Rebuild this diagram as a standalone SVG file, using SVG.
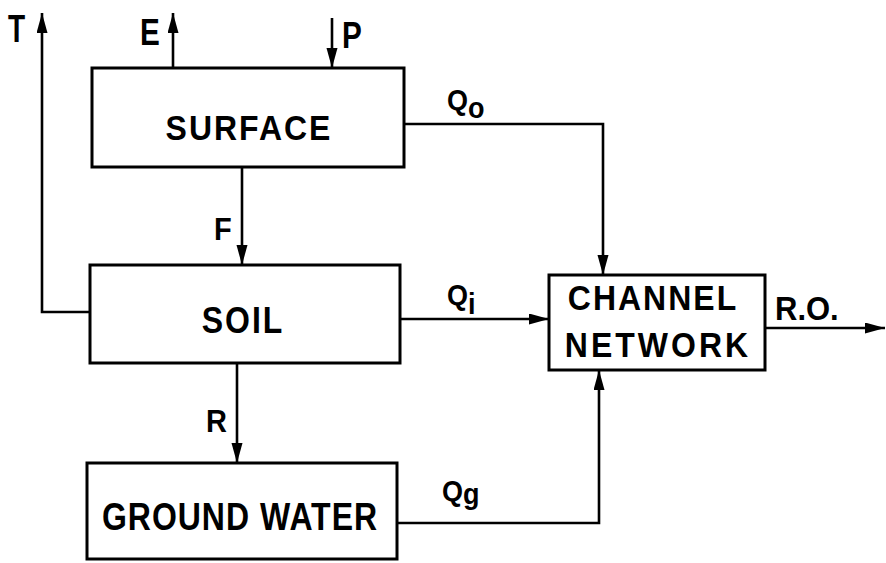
<svg xmlns="http://www.w3.org/2000/svg" width="886" height="563" viewBox="0 0 886 563">
<style>
.box{fill:#fff;stroke:#000;stroke-width:3}
.c{fill:none;stroke:#000;stroke-width:2.6;marker-end:url(#ah)}
.t{font-family:"Liberation Sans",Arial,sans-serif;font-weight:bold;fill:#000}
.big{font-size:32px}
.lbl{font-size:33px}
.q{font-size:27px}
</style>
<defs>
<marker id="ah" markerUnits="userSpaceOnUse" markerWidth="22" markerHeight="12" refX="20" refY="5.5" orient="auto">
<path d="M0,0 L20,5.5 L0,11 z" fill="#000"/>
</marker>
</defs>
<rect width="886" height="563" fill="#fff"/>
<g id="surface">
<rect class="box" x="92" y="68" width="312" height="99"/>
<text class="t big" transform="translate(249,140) scale(1,1.12)" text-anchor="middle" letter-spacing="2">SURFACE</text>
</g>
<g id="soil">
<rect class="box" x="90" y="265" width="310" height="98"/>
<text class="t big" transform="translate(243,333) scale(1,1.15)" text-anchor="middle" letter-spacing="2">SOIL</text>
</g>
<g id="groundwater">
<rect class="box" x="87" y="463" width="310" height="96"/>
<text class="t big" transform="translate(240,530) scale(1,1.2)" text-anchor="middle" letter-spacing="1">GROUND WATER</text>
</g>
<g id="channel">
<rect class="box" x="549" y="275" width="216" height="95"/>
<text class="t big" transform="translate(653,310) scale(1,1.12)" text-anchor="middle" letter-spacing="2">CHANNEL</text>
<text class="t big" transform="translate(658,357) scale(1,1.12)" text-anchor="middle" letter-spacing="3">NETWORK</text>
</g>
<g id="connectors">
<polyline class="c" points="90,312 42,312 42,13"/>
<line class="c" x1="173" y1="68" x2="173" y2="13"/>
<line class="c" x1="332" y1="18" x2="332" y2="68"/>
<line class="c" x1="242" y1="167" x2="242" y2="265"/>
<line class="c" x1="237" y1="363" x2="237" y2="463"/>
<polyline class="c" points="404,124 603,124 603,275"/>
<line class="c" x1="400" y1="319" x2="549" y2="319"/>
<polyline class="c" points="397,523 599,523 599,370"/>
<line class="c" x1="765" y1="328" x2="885" y2="328"/>
</g>
<g id="labels">
<text class="t lbl" transform="translate(8,42) scale(0.85,1.15)">T</text>
<text class="t lbl" transform="translate(140,45) scale(0.9,1.1)">E</text>
<text class="t lbl" transform="translate(342,48) scale(0.9,1.1)">P</text>
<text class="t" transform="translate(214,240) scale(1,1.1)" font-size="29px">F</text>
<text class="t" transform="translate(206,432) scale(1,1.1)" font-size="29px">R</text>
<text class="t q" transform="translate(447,110) scale(1,1.1)">Q<tspan dy="7">o</tspan></text>
<text class="t q" transform="translate(447,305) scale(1,1.1)">Q<tspan dy="8">i</tspan></text>
<text class="t q" transform="translate(442,501) scale(1,1.1)">Q<tspan dy="3">g</tspan></text>
<text class="t" transform="translate(775,320) scale(1,1.1)" font-size="31px">R.O.</text>
</g>
</svg>
